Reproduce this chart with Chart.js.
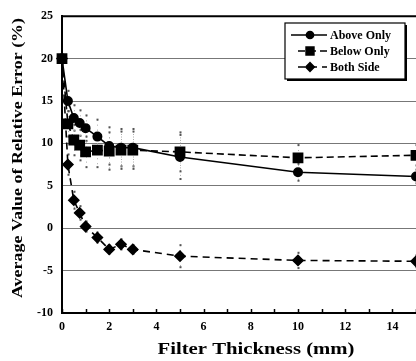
<!DOCTYPE html>
<html>
<head>
<meta charset="utf-8">
<script src="https://cdn.jsdelivr.net/npm/chart.js@4/dist/chart.umd.min.js"></script>
<style>
  html, body { margin: 0; padding: 0; background: #fff; }
  #wrap { width: 416px; height: 361px; position: relative; }
</style>
</head>
<body>
<div id="wrap"><canvas id="chart" width="416" height="361"></canvas></div>
<script>
// フィルタ厚さ (mm)
const thickness = [0, 0.25, 0.5, 0.75, 1, 1.5, 2, 2.5, 3, 5, 10, 15];

// 相対誤差の平均値 (%)
const aboveOnly = [20, 15, 13, 12.4, 11.8, 10.8, 9.7, 9.5, 9.5, 8.4, 6.6, 6.1];
const belowOnly = [20, 12.3, 10.4, 9.8, 9.0, 9.2, 9.1, 9.2, 9.2, 9.0, 8.3, 8.6];
const bothSide  = [20, 7.5, 3.3, 1.8, 0.2, -1.1, -2.5, -1.9, -2.5, -3.3, -3.8, -3.9];

// ばらつき（上下の幅）
const aboveErr = [0, 1.2, 1.5, 1.5, 1.5, 2, 2.2, 2.2, 2.2, 2.6, 1.0, 0.8];
const belowErr = [0, 1.5, 1.8, 1.8, 1.8, 2, 2.2, 2.2, 2.2, 2.3, 1.5, 1.2];
const bothErr  = [0, 1.2, 1.0, 0.8, 0.6, 0.6, 0.5, 0.6, 0.5, 1.3, 0.9, 0.7];

const yTicks = [-10, -5, 0, 5, 10, 15, 20, 25];

const xTitle = 'Filter Thickness (mm)';
const yTitle = 'Average Value of Relative Error (%)';

const FONT = "'Liberation Serif', 'Times New Roman', serif";

function pts(ys) {
  return thickness.map(function(x, i){ return { x: x, y: ys[i] }; });
}

// 誤差棒（点線）
const errorBars = {
  id: 'errorBars',
  beforeDatasetsDraw(chart) {
    const ctx = chart.ctx;
    const xs = chart.scales.x, ys = chart.scales.y;
    const errs = [aboveErr, belowErr, bothErr];
    ctx.save();
    ctx.strokeStyle = '#aaa';
    ctx.lineWidth = 1;
    ctx.setLineDash([1, 4]);
    chart.data.datasets.forEach(function(ds, d){
      ds.data.forEach(function(p, i){
        const e = errs[d][i];
        if (!e) return;
        const px = Math.round(xs.getPixelForValue(p.x)) + 0.5;
        const top = ys.getPixelForValue(p.y + e);
        const bot = ys.getPixelForValue(p.y - e);
        ctx.beginPath();
        ctx.moveTo(px, top);
        ctx.lineTo(px, bot);
        ctx.stroke();
        ctx.fillStyle = '#555';
        ctx.fillRect(px - 1, top - 1, 2, 2);
        ctx.fillRect(px - 1, bot - 1, 2, 2);
      });
    });
    ctx.restore();
  }
};

// 内向きの目盛り・上枠・軸タイトル
const frame = {
  id: 'frame',
  afterDraw(chart) {
    const ctx = chart.ctx;
    const a = chart.chartArea;
    const xs = chart.scales.x;
    ctx.save();
    ctx.strokeStyle = '#000';
    ctx.lineWidth = 1.5;
    for (let v = 0; v <= 15; v++) {
      const px = Math.round(xs.getPixelForValue(v)) + 0.5;
      ctx.beginPath();
      ctx.moveTo(px, a.bottom);
      ctx.lineTo(px, a.bottom - 4);
      ctx.stroke();
    }
    ctx.lineWidth = 2;
    ctx.beginPath();
    ctx.moveTo(a.left, a.top);
    ctx.lineTo(a.right, a.top);
    ctx.stroke();

    // 横長の書体に合わせて横方向に引き伸ばす
    ctx.fillStyle = '#000';
    ctx.textAlign = 'center';
    ctx.textBaseline = 'middle';

    ctx.font = 'bold 17px ' + FONT;
    let w = ctx.measureText(xTitle).width;
    ctx.save();
    ctx.translate(256, 350);
    ctx.scale(197 / w, 1);
    ctx.fillText(xTitle, 0, 0);
    ctx.restore();

    ctx.font = 'bold 15px ' + FONT;
    w = ctx.measureText(yTitle).width;
    ctx.save();
    ctx.translate(18, 158);
    ctx.rotate(-Math.PI / 2);
    ctx.scale(280 / w, 1);
    ctx.fillText(yTitle, 0, 0);
    ctx.restore();

    ctx.restore();
  }
};

// 凡例（枠付き）
const boxLegend = {
  id: 'boxLegend',
  afterDraw(chart) {
    const ctx = chart.ctx;
    const bx = 285, by = 23, bw = 120, bh = 56;
    ctx.save();
    ctx.fillStyle = '#000';
    ctx.fillRect(bx + 2, by + 2, bw, bh);
    ctx.fillStyle = '#fff';
    ctx.fillRect(bx, by, bw, bh);
    ctx.strokeStyle = '#000';
    ctx.lineWidth = 1.2;
    ctx.strokeRect(bx, by, bw, bh);

    ctx.font = 'bold 12px ' + FONT;
    ctx.textBaseline = 'middle';
    chart.data.datasets.forEach(function(ds, i){
      const y = by + 12 + i * 16;
      const x0 = i === 0 ? bx + 6 : bx + 13;
      ctx.strokeStyle = '#000';
      ctx.lineWidth = 1.6;
      ctx.setLineDash(ds.borderDash || []);
      ctx.beginPath();
      ctx.moveTo(x0, y);
      ctx.lineTo(bx + 42, y);
      ctx.stroke();
      ctx.setLineDash([]);
      ctx.fillStyle = '#000';
      Chart.helpers.drawPoint(ctx, {
        pointStyle: ds.pointStyle,
        radius: ds.pointRadius * 0.85,
        borderWidth: 1
      }, bx + 25, y);
      ctx.fillText(ds.label, bx + 45, y + 1);
    });
    ctx.restore();
  }
};

const common = {
  borderColor: '#000',
  backgroundColor: '#000',
  pointBackgroundColor: '#000',
  pointBorderColor: '#000',
  borderWidth: 1.6,
  tension: 0,
  clip: false
};

new Chart(document.getElementById('chart'), {
  type: 'line',
  data: {
    datasets: [
      Object.assign({ label: 'Above Only', data: pts(aboveOnly), pointStyle: 'circle', pointRadius: 4.2 }, common),
      Object.assign({ label: 'Below Only', data: pts(belowOnly), pointStyle: 'rect', pointRadius: 6.5, borderDash: [7, 4] }, common),
      Object.assign({ label: 'Both Side', data: pts(bothSide), pointStyle: 'rectRot', pointRadius: 5, borderDash: [7, 5] }, common)
    ]
  },
  options: {
    responsive: false,
    animation: false,
    layout: { autoPadding: false, padding: { top: 15, right: 0, left: 0, bottom: 0 } },
    plugins: {
      legend: { display: false },
      tooltip: { enabled: false }
    },
    scales: {
      x: {
        type: 'linear',
        min: 0,
        max: 15,
        afterFit(scale) { scale.height = 48; scale.paddingRight = 0; },
        grid: { display: true, drawOnChartArea: false, drawTicks: false },
        border: { color: '#000', width: 2 },
        ticks: {
          stepSize: 1,
          autoSkip: false,
          maxRotation: 0,
          padding: 7,
          color: '#000',
          font: { family: FONT, size: 12, weight: 'bold' },
          callback: function(v){ return v % 2 === 0 && v < 15 ? v : ''; }
        }
      },
      y: {
        min: yTicks[0],
        max: yTicks[yTicks.length - 1],
        afterFit(scale) { scale.width = 62; },
        afterBuildTicks(scale) { scale.ticks = yTicks.map(function(v){ return { value: v }; }); },
        grid: {
          drawTicks: false,
          color: function(c){ return (c.tick && (c.tick.value === 25 || c.tick.value === -10)) ? 'rgba(0,0,0,0)' : '#777'; },
          lineWidth: 1
        },
        border: { color: '#000', width: 2 },
        ticks: {
          padding: 9,
          color: '#000',
          font: { family: FONT, size: 12, weight: 'bold' }
        }
      }
    }
  },
  plugins: [errorBars, frame, boxLegend]
});
</script>
</body>
</html>
